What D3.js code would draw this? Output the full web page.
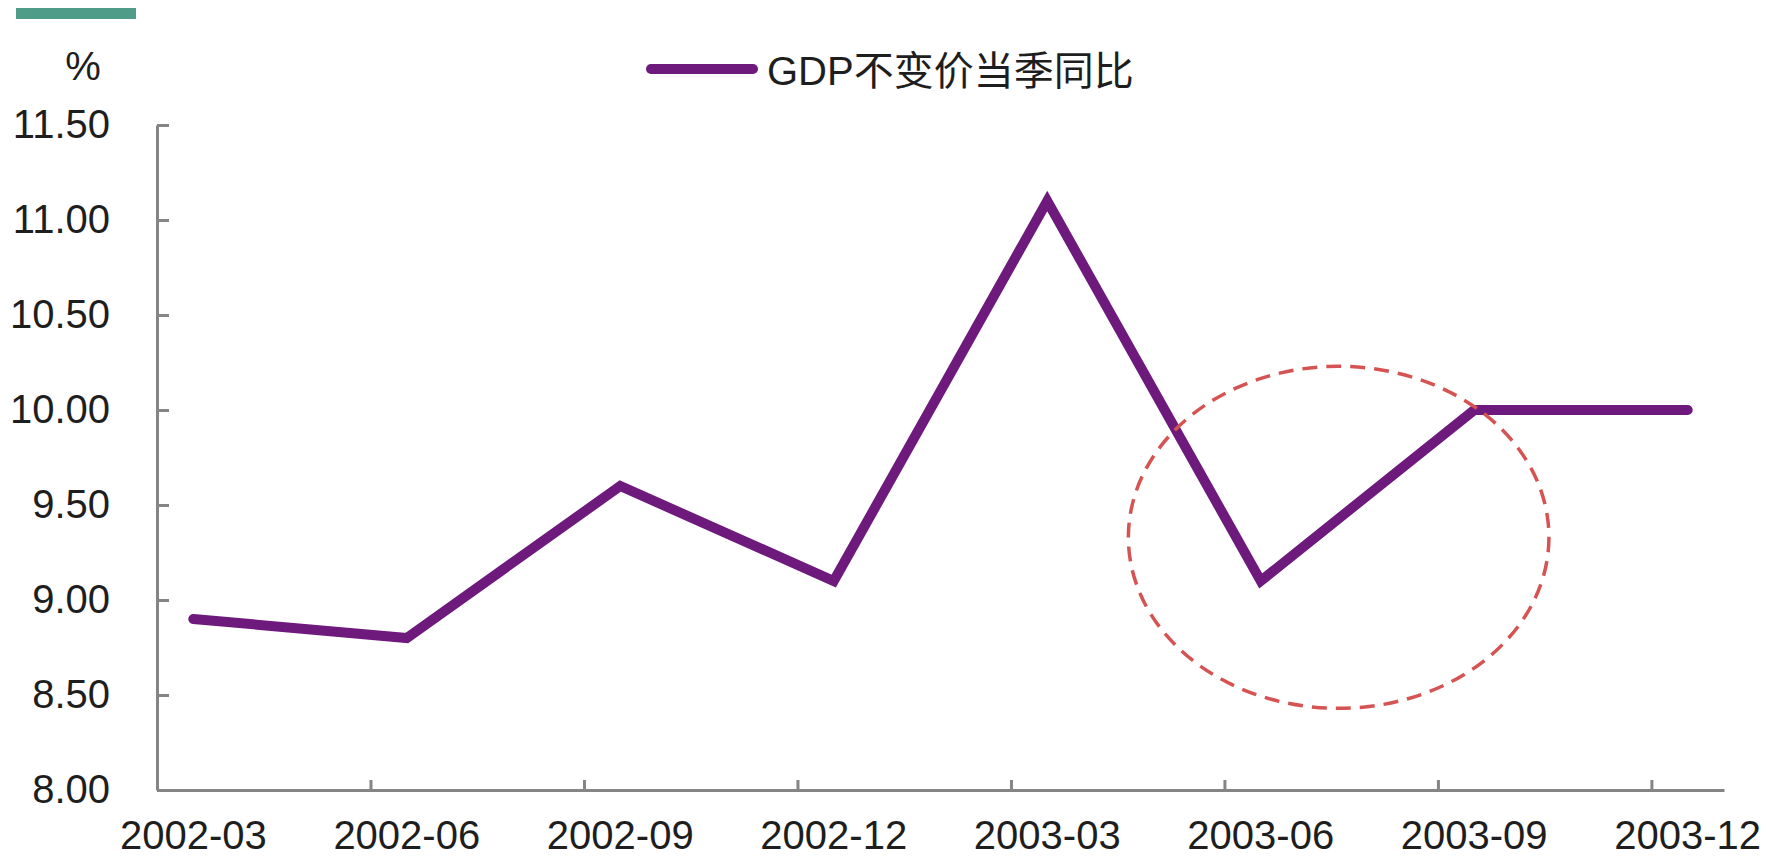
<!DOCTYPE html>
<html>
<head>
<meta charset="utf-8">
<script src="https://cdn.jsdelivr.net/npm/d3@7"></script>
<style>
    body { margin: 0; background: #fff; }
    text { font-family: "Liberation Sans", Arial, "Noto Sans CJK SC", sans-serif; fill: #1e1e1e; }
</style>
</head>
<body>
<div id="chart"></div>
<script>
// quarterly data
const quarters = ["2002-03", "2002-06", "2002-09", "2002-12", "2003-03", "2003-06", "2003-09", "2003-12"];
const gdpYoY = [8.9, 8.8, 9.6, 9.1, 11.1, 9.1, 10.0, 10.0];
const yTicks = [8.0, 8.5, 9.0, 9.5, 10.0, 10.5, 11.0, 11.5];
const seriesName = "GDP不变价当季同比";
const unitLabel = "%";
// highlight ellipse bounds, in quarter index / value units
const highlightX = [4.38, 6.35];
const highlightY = [8.43, 10.23];

function drawChart() {
    const dimensions = { width: 1766, height: 856 };
    const fontSize = 40;
    const lineColor = "#6e1a7d";
    const axisColor = "#858585";

    // ticks sit a bit before each data point (Excel date axis look)
    const tickOffset = 0.17;
    const axisEnd = quarters.length - 1 + 0.17;

    const xScale = d3.scaleLinear()
        .domain([-tickOffset, axisEnd])
        .range([157, 1724]);
    const yScale = d3.scaleLinear()
        .domain([8, 11.5])
        .range([790, 125]);

    const svg = d3.select("#chart").append("svg")
        .attr("width", dimensions.width)
        .attr("height", dimensions.height)
        .style("background", "#fff");

    // teal header bar
    svg.append("rect")
        .attr("x", 16).attr("y", 8)
        .attr("width", 120).attr("height", 11)
        .attr("fill", "#4f9c89");

    // unit label
    svg.append("text")
        .attr("x", 83).attr("y", 80)
        .attr("text-anchor", "middle")
        .attr("font-size", fontSize)
        .text(unitLabel);

    // legend
    const legend = svg.append("g");
    legend.append("line")
        .attr("x1", 651).attr("x2", 753)
        .attr("y1", 69).attr("y2", 69)
        .attr("stroke", lineColor)
        .attr("stroke-width", 10)
        .attr("stroke-linecap", "round");
    legend.append("text")
        .attr("x", 767).attr("y", 85)
        .attr("font-size", fontSize)
        .text(seriesName);

    // y axis
    const yAxis = d3.axisLeft(yScale)
        .tickValues(yTicks)
        .tickSize(-12)
        .tickSizeOuter(0)
        .tickPadding(47)
        .tickFormat(d3.format(".2f"));
    const yG = svg.append("g")
        .attr("transform", `translate(${xScale(-tickOffset)},0)`)
        .call(yAxis);
    yG.selectAll("path, line").attr("stroke", axisColor).attr("stroke-width", 3);
    yG.selectAll("text").attr("font-size", fontSize).attr("font-family", null).attr("fill", "#1e1e1e");

    // x axis
    const xAxis = d3.axisBottom(xScale)
        .tickValues(d3.range(1, quarters.length).map(i => i - tickOffset))
        .tickSize(-10)
        .tickSizeOuter(0)
        .tickFormat("");
    const xG = svg.append("g")
        .attr("transform", `translate(0,${yScale(8)})`)
        .call(xAxis);
    xG.selectAll("path, line").attr("stroke", axisColor).attr("stroke-width", 3);

    svg.append("g").selectAll("text")
        .data(quarters)
        .enter()
        .append("text")
        .attr("x", (d, i) => xScale(i))
        .attr("y", 849)
        .attr("text-anchor", "middle")
        .attr("font-size", fontSize)
        .text(d => d);

    // series line
    const line = d3.line()
        .x((d, i) => xScale(i))
        .y(d => yScale(d));
    svg.append("path")
        .datum(gdpYoY)
        .attr("d", line)
        .attr("fill", "none")
        .attr("stroke", lineColor)
        .attr("stroke-width", 10)
        .attr("stroke-linejoin", "miter")
        .attr("stroke-linecap", "round");

    // dashed highlight around the 2003-06 dip
    const [hx0, hx1] = highlightX.map(xScale);
    const [hy0, hy1] = highlightY.map(yScale);
    svg.append("ellipse")
        .attr("cx", (hx0 + hx1) / 2)
        .attr("cy", (hy0 + hy1) / 2)
        .attr("rx", (hx1 - hx0) / 2)
        .attr("ry", (hy0 - hy1) / 2)
        .attr("fill", "none")
        .attr("stroke", "#d65353")
        .attr("stroke-width", 3.5)
        .attr("stroke-dasharray", "15,9");
}

drawChart();
</script>
</body>
</html>
